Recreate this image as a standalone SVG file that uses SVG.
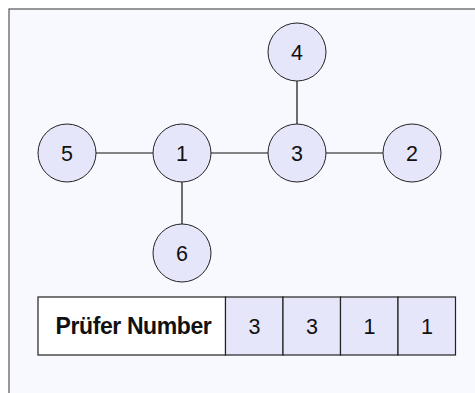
<svg xmlns="http://www.w3.org/2000/svg" width="475" height="393" viewBox="0 0 475 393">
<style>
.node circle{fill:#e6e6fa;stroke:#222;stroke-width:1}
.lbl{font-family:"Liberation Sans",Arial,sans-serif;font-size:21.5px;fill:#111;text-anchor:middle}
.edges line{stroke:#111;stroke-width:1.2}
.cell{fill:#e6e6fa;stroke:#222;stroke-width:1.2}
</style>
<rect x="0" y="0" width="475" height="393" fill="#ffffff"/>
<rect x="9" y="9" width="480" height="400" fill="#f8f8ff" stroke="#555" stroke-width="1.2"/>
<g id="edges" class="edges">
<line x1="96" y1="153" x2="153" y2="153"/>
<line x1="211" y1="153" x2="268" y2="153"/>
<line x1="326" y1="153" x2="383" y2="153"/>
<line x1="297" y1="81" x2="297" y2="124"/>
<line x1="182" y1="182" x2="182" y2="224"/>
</g>
<g id="node5" class="node"><circle cx="67" cy="153" r="29"/><text class="lbl" x="67" y="161">5</text></g>
<g id="node1" class="node"><circle cx="182" cy="153" r="29"/><text class="lbl" x="182" y="161">1</text></g>
<g id="node3" class="node"><circle cx="297" cy="153" r="29"/><text class="lbl" x="297" y="161">3</text></g>
<g id="node2" class="node"><circle cx="412" cy="153" r="29"/><text class="lbl" x="412" y="161">2</text></g>
<g id="node4" class="node"><circle cx="297" cy="52" r="29"/><text class="lbl" x="297" y="60">4</text></g>
<g id="node6" class="node"><circle cx="182" cy="253" r="29"/><text class="lbl" x="182" y="261">6</text></g>
<g id="table">
<rect x="38" y="297" width="187.5" height="58" fill="#ffffff" stroke="#222" stroke-width="1.2"/>
<text x="133.5" y="333.5" font-family="'Liberation Sans',Arial,sans-serif" font-size="23" font-weight="bold" fill="#111" text-anchor="middle" letter-spacing="-0.4">Prüfer Number</text>
<rect class="cell" x="225.5" y="297" width="57.5" height="58"/>
<rect class="cell" x="283" y="297" width="57.5" height="58"/>
<rect class="cell" x="340.5" y="297" width="57.5" height="58"/>
<rect class="cell" x="398" y="297" width="57.5" height="58"/>
<text class="lbl" x="254.5" y="334">3</text>
<text class="lbl" x="312" y="334">3</text>
<text class="lbl" x="369.5" y="334">1</text>
<text class="lbl" x="427" y="334">1</text>
</g>
</svg>
